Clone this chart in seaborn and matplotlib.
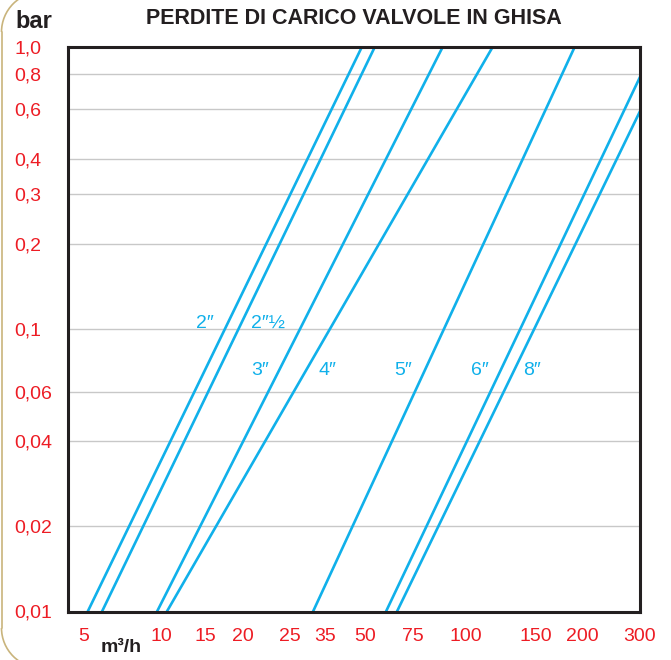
import matplotlib
matplotlib.use('Agg')
import matplotlib.pyplot as plt
import matplotlib.transforms as mtransforms
from matplotlib.patches import Arc
from matplotlib.lines import Line2D
from matplotlib.ticker import NullLocator
import seaborn as sns
import pandas as pd
import numpy as np

# --- dati ---
sizes = ['2″', '2″½', '3″', '4″', '5″', '6″', '8″']
flow_start = [5.2, 5.9, 9.6, 10.5, 31.2, 59.7, 65.5]      # m3/h a 0,01 bar
loss_start = [0.01, 0.01, 0.01, 0.01, 0.01, 0.01, 0.01]
flow_end = [48.7, 54.4, 88.3, 117.0, 190.6, 300.0, 300.0]
loss_end = [1.0, 1.0, 1.0, 1.0, 1.0, 0.78, 0.59]

label_flow = [15.0, 22.5, 21.7, 35.9, 68.9, 108.6, 146.6]
label_loss = [0.105, 0.105, 0.0713, 0.0713, 0.0713, 0.0713, 0.0713]

x_ticks = [5, 10, 15, 20, 25, 35, 50, 75, 100, 150, 200, 300]
x_tick_pos = [0.0276, 0.1645, 0.2402, 0.3071, 0.3886, 0.4498, 0.5197,
              0.6035, 0.6956, 0.8183, 0.8999, 1.0]
x_grid = [5, 10, 15, 20, 25, 35, 100, 150, 200]
y_ticks = [0.01, 0.02, 0.04, 0.06, 0.1, 0.2, 0.3, 0.4, 0.6, 0.8, 1.0]
y_labels = ['0,01', '0,02', '0,04', '0,06', '0,1', '0,2', '0,3', '0,4',
            '0,6', '0,8', '1,0']

BLUE = '#10b0ea'
RED = '#ed1c24'
INK = '#231f20'
GRID = '#c8c8c8'
FRAME = '#c9b47c'

# scala x non uniforme (come nel disegno originale)
LOG_T = np.log10(np.array(x_ticks, float))
POS = np.array(x_tick_pos, float)


def _extrap(v, xs, ys):
    out = np.interp(v, xs, ys)
    s0 = (ys[1] - ys[0]) / (xs[1] - xs[0])
    s1 = (ys[-1] - ys[-2]) / (xs[-1] - xs[-2])
    out = np.where(v < xs[0], ys[0] + (v - xs[0]) * s0, out)
    out = np.where(v > xs[-1], ys[-1] + (v - xs[-1]) * s1, out)
    return out


def fwd(v):
    lv = np.log10(np.clip(np.asarray(v, float), 1e-6, None))
    return _extrap(lv, LOG_T, POS)


def inv(p):
    return 10 ** _extrap(np.asarray(p, float), POS, LOG_T)


sns.set_style('white')
plt.rcParams['font.family'] = ['Liberation Sans', 'DejaVu Sans']

fig = plt.figure(figsize=(6.71, 6.6), dpi=100)
fig.patch.set_facecolor('white')
ax = fig.add_axes([67.5 / 671, 1 - 611.5 / 660, (640 - 67.5) / 671, (611.5 - 46.5) / 660])

df = pd.DataFrame({
    'size': sizes + sizes,
    'flow': flow_start + flow_end,
    'bar': loss_start + loss_end,
})
sns.lineplot(data=df, x='flow', y='bar', units='size', estimator=None,
             color=BLUE, linewidth=1.9, ax=ax, legend=False)

ax.set_xscale('function', functions=(fwd, inv))
ax.set_yscale('log')
ax.set_xlim(float(inv(0.0)), 300)
ax.set_ylim(0.01, 1.0)

ax.set_xticks(x_ticks, labels=[str(v) for v in x_ticks])
ax.set_xticks(x_grid, minor=True)
ax.set_yticks(y_ticks, labels=y_labels)
ax.yaxis.set_minor_locator(NullLocator())

ax.grid(False)
ax.xaxis.grid(True, which='minor', color=GRID, linewidth=1.0)
ax.yaxis.grid(True, which='major', color=GRID, linewidth=1.0)
ax.set_axisbelow(True)

ax.tick_params(axis='both', which='both', length=0)
ax.tick_params(axis='x', pad=12, labelcolor=RED, labelsize=14)
ax.tick_params(axis='y', pad=38, labelcolor=RED, labelsize=14)
for lab in ax.get_yticklabels():
    lab.set_horizontalalignment('left')

for sp in ax.spines.values():
    sp.set_visible(True)
    sp.set_color(INK)
    sp.set_linewidth(2.2)

ax.set_xlabel('')
ax.set_ylabel('')

for f, l, s in zip(label_flow, label_loss, sizes):
    ax.text(f, l, s, color=BLUE, fontsize=14, ha='center', va='center')

fig.text(354 / 671, 1 - 19 / 660, 'PERDITE DI CARICO VALVOLE IN GHISA',
         ha='center', va='center', fontsize=15.5, fontweight='bold', color=INK)
fig.text(15 / 671, 1 - 22 / 660, 'bar', ha='left', va='center',
         fontsize=17, fontweight='bold', color=INK)
fig.text(121 / 671, 1 - 648 / 660, 'm³/h', ha='center', va='center',
         fontsize=14, fontweight='bold', color=INK)

# cornice arrotondata esterna (solo il lato sinistro e' visibile)
ident = mtransforms.IdentityTransform()
r = 40
fig.add_artist(Arc((1.5 + r, 660 + 8 - r), 2 * r, 2 * r, theta1=90, theta2=180,
                   transform=ident, color=FRAME, linewidth=1.2))
fig.add_artist(Arc((1.5 + r, -8 + r), 2 * r, 2 * r, theta1=180, theta2=270,
                   transform=ident, color=FRAME, linewidth=1.2))
fig.add_artist(Line2D([1.5, 1.5], [-8 + r, 668 - r], transform=ident,
                      color=FRAME, linewidth=1.2))

fig.savefig('out.png', dpi=100, facecolor='white')
